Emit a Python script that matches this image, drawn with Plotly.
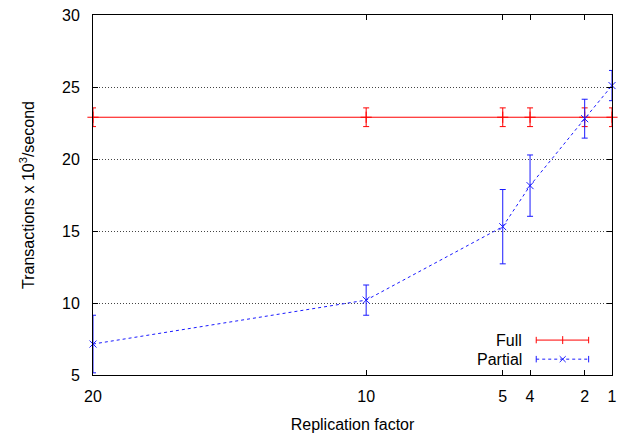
import plotly.graph_objects as go

# Replication factor (x axis, reversed linear)
replication = [20, 10, 5, 4, 2, 1]

# Full replication throughput (x10^3 tx/s) and error
full_tps = [22.9, 22.9, 22.9, 22.9, 22.9, 22.9]
full_err = [0.65, 0.65, 0.65, 0.65, 0.65, 0.65]

# Partial replication throughput and error
partial_tps = [7.15, 10.2, 15.3, 18.15, 22.8, 25.1]
partial_err = [2.0, 1.05, 2.58, 2.13, 1.35, 1.05]

x_ticks = [20, 10, 5, 4, 2, 1]
y_ticks = [5, 10, 15, 20, 25, 30]

RED = "#ff0000"
BLUE = "#1a1aff"
FONT = "Liberation Sans, Arial, Helvetica, sans-serif"

fig = go.Figure()

fig.add_trace(go.Scatter(
    x=replication, y=full_tps, name="Full", mode="lines+markers",
    line=dict(color=RED, width=1),
    marker=dict(symbol="cross-thin-open", size=8, line=dict(color=RED, width=1)),
    error_y=dict(type="data", array=full_err, color=RED, thickness=1, width=3),
    cliponaxis=False,
))
fig.add_trace(go.Scatter(
    x=replication, y=partial_tps, name="Partial", mode="lines+markers",
    line=dict(color=BLUE, width=1, dash="3px,3px"),
    marker=dict(symbol="x-thin-open", size=7, line=dict(color=BLUE, width=1)),
    error_y=dict(type="data", array=partial_err, color=BLUE, thickness=1, width=3),
    cliponaxis=False,
))

# legend drawn gnuplot-style: text on the left, sample on the right
shapes = []
annotations = []
lx0, lx1, lm = 0.854, 0.955, 0.905
cap = 0.009
for label, yy, color, dash, sym in [("Full", 0.097, RED, "solid", "+"),
                                    ("Partial", 0.044, BLUE, "dash", "x")]:
    annotations.append(dict(x=0.83, y=yy, xref="paper", yref="paper", text=label,
                            showarrow=False, xanchor="right", yanchor="middle",
                            font=dict(size=16, color="black", family=FONT)))
    ln = dict(color=color, width=1, dash="3px,3px" if dash == "dash" else "solid")
    shapes.append(dict(type="line", xref="paper", yref="paper", x0=lx0, x1=lx1,
                       y0=yy, y1=yy, line=ln))
    for xc in (lx0, lx1):
        shapes.append(dict(type="line", xref="paper", yref="paper", x0=xc, x1=xc,
                           y0=yy - cap, y1=yy + cap, line=dict(color=color, width=1)))
    if sym == "+":
        shapes.append(dict(type="line", xref="paper", yref="paper", x0=lm, x1=lm,
                           y0=yy - 0.011, y1=yy + 0.011, line=dict(color=color, width=1)))
    else:
        dx, dy = 0.0058, 0.0083
        shapes.append(dict(type="line", xref="paper", yref="paper", x0=lm - dx, x1=lm + dx,
                           y0=yy - dy, y1=yy + dy, line=dict(color=color, width=1)))
        shapes.append(dict(type="line", xref="paper", yref="paper", x0=lm - dx, x1=lm + dx,
                           y0=yy + dy, y1=yy - dy, line=dict(color=color, width=1)))

# page body has an 8px margin, so the figure is sized/offset to compensate
fig.update_layout(
    width=620, height=431,
    margin=dict(l=85, r=16, t=7, b=64, autoexpand=False),
    paper_bgcolor="white", plot_bgcolor="white",
    showlegend=False,
    font=dict(family=FONT, size=16, color="black"),
    shapes=shapes, annotations=annotations,
)
fig.update_xaxes(
    range=[20, 1], tickvals=x_ticks, ticktext=[str(v) for v in x_ticks],
    showgrid=False, zeroline=False,
    showline=True, linecolor="black", linewidth=1, mirror="allticks",
    ticks="inside", ticklen=5, tickcolor="black", ticklabelstandoff=7,
    ticklabeloverflow="allow",
    title=dict(text="Replication factor", standoff=14, font=dict(size=16)),
)
fig.update_yaxes(
    range=[5, 30], tickvals=y_ticks,
    showgrid=True, gridcolor="#444444", griddash="1px,2px", gridwidth=1,
    zeroline=False,
    showline=True, linecolor="black", linewidth=1, mirror="allticks",
    ticks="inside", ticklen=5, tickcolor="black", ticklabelstandoff=9,
    ticklabeloverflow="allow",
    title=dict(text="Transactions x 10<sup>3</sup>/second", standoff=23, font=dict(size=16)),
)

fig.write_html("out.html")
